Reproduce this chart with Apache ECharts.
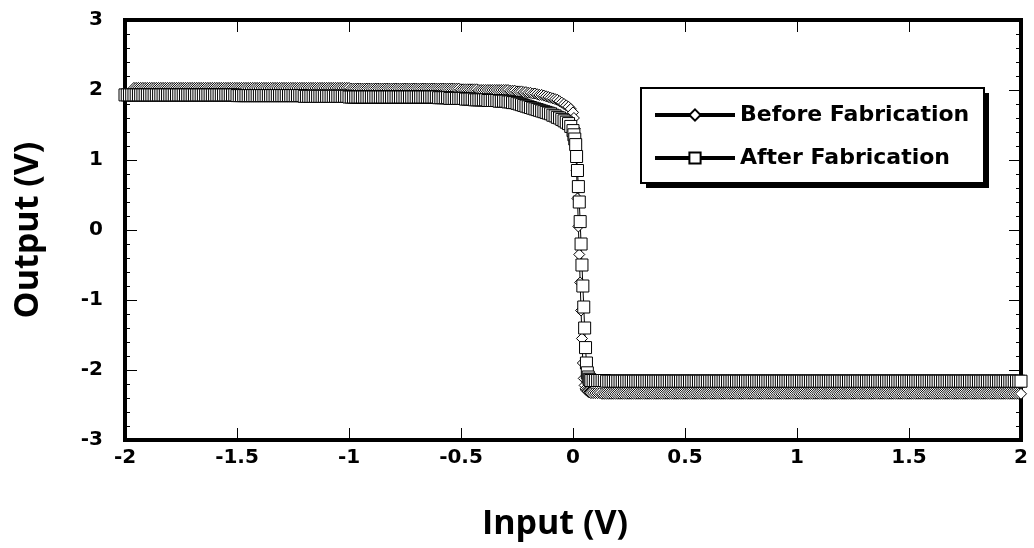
<!DOCTYPE html>
<html>
<head>
<meta charset="utf-8">
<script src="https://cdn.jsdelivr.net/npm/echarts@6/dist/echarts.min.js"></script>
<style>
html,body{margin:0;padding:0;background:#fff;}
#chart{width:1034px;height:548px;}
</style>
</head>
<body>
<div id="chart"></div>
<script>
// Input sweep (V)
const inputV = [
-2.00,-1.99,-1.98,-1.97,-1.96,-1.95,-1.94,-1.93,-1.92,-1.91,
-1.90,-1.89,-1.88,-1.87,-1.86,-1.85,-1.84,-1.83,-1.82,-1.81,
-1.80,-1.79,-1.78,-1.77,-1.76,-1.75,-1.74,-1.73,-1.72,-1.71,
-1.70,-1.69,-1.68,-1.67,-1.66,-1.65,-1.64,-1.63,-1.62,-1.61,
-1.60,-1.59,-1.58,-1.57,-1.56,-1.55,-1.54,-1.53,-1.52,-1.51,
-1.50,-1.49,-1.48,-1.47,-1.46,-1.45,-1.44,-1.43,-1.42,-1.41,
-1.40,-1.39,-1.38,-1.37,-1.36,-1.35,-1.34,-1.33,-1.32,-1.31,
-1.30,-1.29,-1.28,-1.27,-1.26,-1.25,-1.24,-1.23,-1.22,-1.21,
-1.20,-1.19,-1.18,-1.17,-1.16,-1.15,-1.14,-1.13,-1.12,-1.11,
-1.10,-1.09,-1.08,-1.07,-1.06,-1.05,-1.04,-1.03,-1.02,-1.01,
-1.00,-0.99,-0.98,-0.97,-0.96,-0.95,-0.94,-0.93,-0.92,-0.91,
-0.90,-0.89,-0.88,-0.87,-0.86,-0.85,-0.84,-0.83,-0.82,-0.81,
-0.80,-0.79,-0.78,-0.77,-0.76,-0.75,-0.74,-0.73,-0.72,-0.71,
-0.70,-0.69,-0.68,-0.67,-0.66,-0.65,-0.64,-0.63,-0.62,-0.61,
-0.60,-0.59,-0.58,-0.57,-0.56,-0.55,-0.54,-0.53,-0.52,-0.51,
-0.50,-0.49,-0.48,-0.47,-0.46,-0.45,-0.44,-0.43,-0.42,-0.41,
-0.40,-0.39,-0.38,-0.37,-0.36,-0.35,-0.34,-0.33,-0.32,-0.31,
-0.30,-0.29,-0.28,-0.27,-0.26,-0.25,-0.24,-0.23,-0.22,-0.21,
-0.20,-0.19,-0.18,-0.17,-0.16,-0.15,-0.14,-0.13,-0.12,-0.11,
-0.10,-0.09,-0.08,-0.07,-0.06,-0.05,-0.04,-0.03,-0.02,-0.01,
0.000,0.004,0.008,0.012,0.016,0.020,0.024,0.028,0.032,0.036,
0.040,0.044,0.048,0.052,0.056,0.060,0.064,0.068,0.072,0.076,0.080,
0.09,0.10,0.11,0.12,0.13,0.14,0.15,0.16,0.17,0.18,
0.19,0.20,0.21,0.22,0.23,0.24,0.25,0.26,0.27,0.28,0.29,0.30,
0.31,0.32,0.33,0.34,0.35,0.36,0.37,0.38,0.39,0.40,
0.41,0.42,0.43,0.44,0.45,0.46,0.47,0.48,0.49,0.50,
0.51,0.52,0.53,0.54,0.55,0.56,0.57,0.58,0.59,0.60,
0.61,0.62,0.63,0.64,0.65,0.66,0.67,0.68,0.69,0.70,
0.71,0.72,0.73,0.74,0.75,0.76,0.77,0.78,0.79,0.80,
0.81,0.82,0.83,0.84,0.85,0.86,0.87,0.88,0.89,0.90,
0.91,0.92,0.93,0.94,0.95,0.96,0.97,0.98,0.99,1.00,
1.01,1.02,1.03,1.04,1.05,1.06,1.07,1.08,1.09,1.10,
1.11,1.12,1.13,1.14,1.15,1.16,1.17,1.18,1.19,1.20,
1.21,1.22,1.23,1.24,1.25,1.26,1.27,1.28,1.29,1.30,
1.31,1.32,1.33,1.34,1.35,1.36,1.37,1.38,1.39,1.40,
1.41,1.42,1.43,1.44,1.45,1.46,1.47,1.48,1.49,1.50,
1.51,1.52,1.53,1.54,1.55,1.56,1.57,1.58,1.59,1.60,
1.61,1.62,1.63,1.64,1.65,1.66,1.67,1.68,1.69,1.70,
1.71,1.72,1.73,1.74,1.75,1.76,1.77,1.78,1.79,1.80,
1.81,1.82,1.83,1.84,1.85,1.86,1.87,1.88,1.89,1.90,
1.91,1.92,1.93,1.94,1.95,1.96,1.97,1.98,1.99,2.00
];

// Output before fabrication (V)
const outputBefore = [
null,null,null,null,2.03,2.03,2.03,2.03,2.03,2.03,
2.03,2.03,2.03,2.03,2.03,2.03,2.03,2.03,2.03,2.03,
2.03,2.03,2.03,2.03,2.03,2.03,2.03,2.03,2.03,2.03,
2.03,2.03,2.03,2.03,2.03,2.03,2.03,2.03,2.03,2.03,
2.03,2.03,2.03,2.03,2.03,2.03,2.03,2.03,2.03,2.03,
2.03,2.03,2.03,2.03,2.03,2.03,2.03,2.03,2.03,2.03,
2.03,2.03,2.03,2.03,2.03,2.03,2.03,2.03,2.03,2.03,
2.03,2.03,2.03,2.03,2.03,2.03,2.03,2.03,2.03,2.03,
2.03,2.03,2.03,2.03,2.03,2.03,2.03,2.03,2.03,2.03,
2.03,2.03,2.03,2.03,2.03,2.03,2.03,2.03,2.03,2.03,
2.03,2.02,2.02,2.02,2.02,2.02,2.02,2.02,2.02,2.02,
2.02,2.02,2.02,2.02,2.02,2.02,2.02,2.02,2.02,2.02,
2.02,2.02,2.02,2.02,2.02,2.02,2.02,2.02,2.02,2.02,
2.02,2.02,2.02,2.02,2.02,2.02,2.02,2.02,2.02,2.02,
2.02,2.02,2.02,2.02,2.02,2.02,2.02,2.02,2.02,2.02,
2.01,2.01,2.01,2.01,2.01,2.01,2.01,2.01,2.00,2.00,
2.00,2.00,2.00,2.00,2.00,2.00,2.00,2.00,2.00,2.00,
2.00,2.00,1.99,1.99,1.99,1.98,1.98,1.98,1.97,1.97,
1.96,1.96,1.95,1.95,1.94,1.93,1.93,1.92,1.91,1.90,
1.89,1.88,1.87,1.86,1.84,1.82,1.80,1.78,1.76,1.73,
1.68,1.60,1.45,1.20,0.85,0.45,0.05,-0.35,-0.75,-1.15,
-1.55,-1.90,-2.12,-2.22,-2.27,-2.29,-2.30,-2.31,-2.32,-2.32,-2.33,
-2.33,-2.33,-2.33,-2.33,-2.34,-2.34,-2.34,-2.34,-2.34,-2.34,
-2.34,-2.34,-2.34,-2.34,-2.34,-2.34,-2.34,-2.34,-2.34,-2.34,-2.34,-2.34,
-2.34,-2.34,-2.34,-2.34,-2.34,-2.34,-2.34,-2.34,-2.34,-2.34,
-2.34,-2.34,-2.34,-2.34,-2.34,-2.34,-2.34,-2.34,-2.34,-2.34,
-2.34,-2.34,-2.34,-2.34,-2.34,-2.34,-2.34,-2.34,-2.34,-2.34,
-2.34,-2.34,-2.34,-2.34,-2.34,-2.34,-2.34,-2.34,-2.34,-2.34,
-2.34,-2.34,-2.34,-2.34,-2.34,-2.34,-2.34,-2.34,-2.34,-2.34,
-2.34,-2.34,-2.34,-2.34,-2.34,-2.34,-2.34,-2.34,-2.34,-2.34,
-2.34,-2.34,-2.34,-2.34,-2.34,-2.34,-2.34,-2.34,-2.34,-2.34,
-2.34,-2.34,-2.34,-2.34,-2.34,-2.34,-2.34,-2.34,-2.34,-2.34,
-2.34,-2.34,-2.34,-2.34,-2.34,-2.34,-2.34,-2.34,-2.34,-2.34,
-2.34,-2.34,-2.34,-2.34,-2.34,-2.34,-2.34,-2.34,-2.34,-2.34,
-2.34,-2.34,-2.34,-2.34,-2.34,-2.34,-2.34,-2.34,-2.34,-2.34,
-2.34,-2.34,-2.34,-2.34,-2.34,-2.34,-2.34,-2.34,-2.34,-2.34,
-2.34,-2.34,-2.34,-2.34,-2.34,-2.34,-2.34,-2.34,-2.34,-2.34,
-2.34,-2.34,-2.34,-2.34,-2.34,-2.34,-2.34,-2.34,-2.34,-2.34,
-2.34,-2.34,-2.34,-2.34,-2.34,-2.34,-2.34,-2.34,-2.34,-2.34,
-2.34,-2.34,-2.34,-2.34,-2.34,-2.34,-2.34,-2.34,-2.34,-2.34,
-2.34,-2.34,-2.34,-2.34,-2.34,-2.34,-2.34,-2.34,-2.34,-2.34
];

// Output after fabrication (V)
const outputAfter = [
1.93,1.93,1.93,1.93,1.93,1.93,1.93,1.93,1.93,1.93,
1.93,1.93,1.93,1.93,1.93,1.93,1.93,1.93,1.93,1.93,
1.93,1.93,1.93,1.93,1.93,1.93,1.93,1.93,1.93,1.93,
1.93,1.93,1.93,1.93,1.93,1.93,1.93,1.93,1.93,1.93,
1.93,1.93,1.93,1.93,1.93,1.93,1.93,1.93,1.93,1.93,
1.92,1.92,1.92,1.92,1.92,1.92,1.92,1.92,1.92,1.92,
1.92,1.92,1.92,1.92,1.92,1.92,1.92,1.92,1.92,1.92,
1.92,1.92,1.92,1.92,1.92,1.92,1.92,1.92,1.92,1.92,
1.91,1.91,1.91,1.91,1.91,1.91,1.91,1.91,1.91,1.91,
1.91,1.91,1.91,1.91,1.91,1.91,1.91,1.91,1.91,1.91,
1.90,1.90,1.90,1.90,1.90,1.90,1.90,1.90,1.90,1.90,
1.90,1.90,1.90,1.90,1.90,1.90,1.90,1.90,1.90,1.90,
1.90,1.90,1.90,1.90,1.90,1.90,1.90,1.90,1.90,1.90,
1.90,1.90,1.90,1.90,1.90,1.90,1.90,1.90,1.90,1.90,
1.89,1.89,1.89,1.89,1.89,1.88,1.88,1.88,1.88,1.88,
1.88,1.88,1.87,1.87,1.87,1.87,1.86,1.86,1.86,1.86,
1.86,1.86,1.85,1.85,1.85,1.85,1.85,1.84,1.84,1.84,
1.84,1.83,1.83,1.82,1.82,1.81,1.80,1.79,1.78,1.77,
1.76,1.75,1.74,1.73,1.72,1.71,1.70,1.69,1.68,1.67,
1.66,1.64,1.63,1.61,1.60,1.58,1.56,1.54,1.52,1.48,
1.42,1.36,1.30,1.22,1.05,0.85,0.62,0.40,0.12,-0.20,
-0.50,-0.80,-1.10,-1.40,-1.68,-1.90,-2.04,-2.10,-2.13,-2.14,-2.15,
-2.15,-2.15,-2.15,-2.15,-2.15,-2.15,-2.16,-2.16,-2.16,-2.16,
-2.16,-2.16,-2.16,-2.16,-2.16,-2.16,-2.16,-2.16,-2.16,-2.16,-2.16,-2.16,
-2.16,-2.16,-2.16,-2.16,-2.16,-2.16,-2.16,-2.16,-2.16,-2.16,
-2.16,-2.16,-2.16,-2.16,-2.16,-2.16,-2.16,-2.16,-2.16,-2.16,
-2.16,-2.16,-2.16,-2.16,-2.16,-2.16,-2.16,-2.16,-2.16,-2.16,
-2.16,-2.16,-2.16,-2.16,-2.16,-2.16,-2.16,-2.16,-2.16,-2.16,
-2.16,-2.16,-2.16,-2.16,-2.16,-2.16,-2.16,-2.16,-2.16,-2.16,
-2.16,-2.16,-2.16,-2.16,-2.16,-2.16,-2.16,-2.16,-2.16,-2.16,
-2.16,-2.16,-2.16,-2.16,-2.16,-2.16,-2.16,-2.16,-2.16,-2.16,
-2.16,-2.16,-2.16,-2.16,-2.16,-2.16,-2.16,-2.16,-2.16,-2.16,
-2.16,-2.16,-2.16,-2.16,-2.16,-2.16,-2.16,-2.16,-2.16,-2.16,
-2.16,-2.16,-2.16,-2.16,-2.16,-2.16,-2.16,-2.16,-2.16,-2.16,
-2.16,-2.16,-2.16,-2.16,-2.16,-2.16,-2.16,-2.16,-2.16,-2.16,
-2.16,-2.16,-2.16,-2.16,-2.16,-2.16,-2.16,-2.16,-2.16,-2.16,
-2.16,-2.16,-2.16,-2.16,-2.16,-2.16,-2.16,-2.16,-2.16,-2.16,
-2.16,-2.16,-2.16,-2.16,-2.16,-2.16,-2.16,-2.16,-2.16,-2.16,
-2.16,-2.16,-2.16,-2.16,-2.16,-2.16,-2.16,-2.16,-2.16,-2.16,
-2.16,-2.16,-2.16,-2.16,-2.16,-2.16,-2.16,-2.16,-2.16,-2.16,
-2.16,-2.16,-2.16,-2.16,-2.16,-2.16,-2.16,-2.16,-2.16,-2.16
];

const seriesNames = ['Before Fabrication', 'After Fabrication'];
const xTitle = 'Input (V)';
const yTitle = 'Output (V)';

const chart = echarts.init(document.getElementById('chart'), null, {renderer: 'canvas'});

const tickFont = {color: '#000', fontFamily: 'DejaVu Sans', fontWeight: 'bold', fontSize: 20};
const titleFont = {color: '#000', fontFamily: 'Open Sans', fontWeight: 'bold', fontSize: 34};
const axisLine = {show: true, onZero: false, lineStyle: {color: '#000', width: 4, cap: 'square'}};

function pairs(ys) { return inputV.map((x, i) => [x, ys[i]]); }

const option = {
  animation: false,
  backgroundColor: '#fff',
  grid: {left: 125, right: 13, top: 20, bottom: 108, containLabel: false},
  graphic: [
    {type: 'rect', z: 3, silent: true, shape: {x: 646, y: 93, width: 343, height: 95}, style: {fill: '#000'}},
    {type: 'rect', z: 3, silent: true, shape: {x: 641, y: 88, width: 343, height: 95}, style: {fill: '#fff', stroke: '#000', lineWidth: 2}}
  ],
  legend: {
    z: 4,
    data: seriesNames,
    orient: 'vertical',
    left: 641, top: 88,
    itemWidth: 80, itemHeight: 14, itemGap: 21,
    padding: [16, 16, 14, 12],
    backgroundColor: 'transparent',
    borderWidth: 0,
    lineStyle: {width: 4, color: '#000'},
    textStyle: {color: '#000', fontFamily: 'DejaVu Sans', fontWeight: 'bold', fontSize: 22, lineHeight: 22},
    selectedMode: false
  },
  xAxis: [
    {
      type: 'value', position: 'bottom', min: -2, max: 2, interval: 0.5,
      axisLine: axisLine,
      axisTick: {show: true, inside: true, length: 12, lineStyle: {color: '#000', width: 1}},
      axisLabel: Object.assign({margin: 8}, tickFont),
      splitLine: {show: false},
      name: xTitle, nameLocation: 'middle', nameGap: 67,
      nameTextStyle: Object.assign({padding: [0, 36, 0, 0]}, titleFont)
    },
    {
      type: 'value', position: 'top', min: -2, max: 2, interval: 0.5,
      axisLine: axisLine,
      axisTick: {show: true, inside: true, length: 12, lineStyle: {color: '#000', width: 1}},
      axisLabel: {show: false},
      splitLine: {show: false}
    }
  ],
  yAxis: [
    {
      type: 'value', position: 'left', min: -3, max: 3, interval: 1,
      axisLine: axisLine,
      axisTick: {show: true, inside: true, length: 12, lineStyle: {color: '#000', width: 1}},
      minorTick: {show: true, splitNumber: 5, length: 5, lineStyle: {color: '#000', width: 1}},
      axisLabel: Object.assign({margin: 22}, tickFont),
      splitLine: {show: false},
      name: yTitle, nameLocation: 'middle', nameRotate: 90, nameGap: 80,
      nameTextStyle: titleFont
    },
    {
      type: 'value', position: 'right', min: -3, max: 3, interval: 1,
      axisLine: axisLine,
      axisTick: {show: true, inside: true, length: 12, lineStyle: {color: '#000', width: 1}},
      minorTick: {show: true, splitNumber: 5, length: 5, lineStyle: {color: '#000', width: 1}},
      axisLabel: {show: false},
      splitLine: {show: false}
    }
  ],
  series: [
    {
      name: seriesNames[0], type: 'line', xAxisIndex: 0, yAxisIndex: 0,
      data: pairs(outputBefore),
      symbol: 'diamond', symbolSize: 11, showSymbol: true, showAllSymbol: true,
      lineStyle: {color: '#000', width: 1},
      itemStyle: {color: '#fff', borderColor: '#000', borderWidth: 1},
      emphasis: {disabled: true},
      clip: false
    },
    {
      name: seriesNames[1], type: 'line', xAxisIndex: 0, yAxisIndex: 0,
      data: pairs(outputAfter),
      symbol: 'rect', symbolSize: 12, showSymbol: true, showAllSymbol: true,
      lineStyle: {color: '#000', width: 1},
      itemStyle: {color: '#fff', borderColor: '#000', borderWidth: 1},
      emphasis: {disabled: true},
      clip: false
    }
  ]
};
chart.setOption(option);
</script>
</body>
</html>
